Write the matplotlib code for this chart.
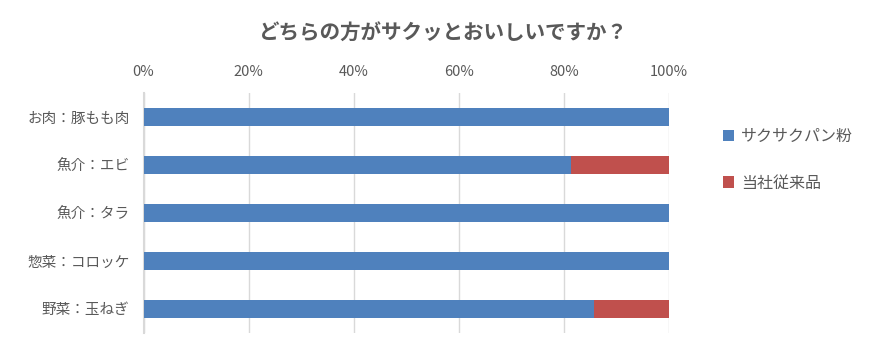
import matplotlib.pyplot as plt
import matplotlib.ticker as mticker
from matplotlib.patches import Patch

plt.rcParams["font.family"] = ["Noto Sans CJK JP", "DejaVu Sans"]

# データ（％）
categories = ["お肉：豚もも肉", "魚介：エビ", "魚介：タラ", "惣菜：コロッケ", "野菜：玉ねぎ"]
sakusaku = [100, 81.3, 100, 100, 85.7]
juurai = [0, 18.7, 0, 0, 14.3]
series_names = ["サクサクパン粉", "当社従来品"]
colors = ["#4F81BD", "#C0504D"]
text_color = "#595959"

fig = plt.figure(figsize=(8.86, 3.55), dpi=100)
ax = fig.add_axes([0.162, 0.062, 0.593, 0.676])

y = range(len(categories))
ax.barh(y, sakusaku, height=0.38, color=colors[0], zorder=3)
ax.barh(y, juurai, left=sakusaku, height=0.38, color=colors[1], zorder=3)

ax.set_xlim(0, 100)
ax.set_ylim(len(categories) - 0.5, -0.5)
ax.set_xticks(range(0, 101, 20))
ax.xaxis.set_major_formatter(mticker.FuncFormatter(lambda v, p: f"{int(v)}%"))
ax.xaxis.tick_top()
ax.set_yticks(list(y))
ax.set_yticklabels(categories)
ax.tick_params(axis="both", length=0, colors=text_color, labelsize=10.5)
ax.tick_params(axis="x", pad=10)
ax.tick_params(axis="y", pad=10)

ax.grid(axis="x", color="#D9D9D9", linewidth=1, zorder=0)
for s in ["top", "right", "bottom"]:
    ax.spines[s].set_visible(False)
ax.spines["left"].set_color("#D9D9D9")
ax.spines["left"].set_linewidth(1.5)

fig.text(0.5, 0.905, "どちらの方がサクッとおいしいですか？", ha="center", va="center",
         fontsize=14.8, fontweight="bold", color=text_color)

handles = [Patch(facecolor=c, label=n) for c, n in zip(colors, series_names)]
fig.legend(handles=handles, loc="upper left", bbox_to_anchor=(0.8, 0.68),
           frameon=False, fontsize=11.5, handlelength=0.7, handleheight=0.7,
           handletextpad=0.4, labelspacing=1.85, labelcolor=text_color)

fig.savefig("out.png", dpi=100)
